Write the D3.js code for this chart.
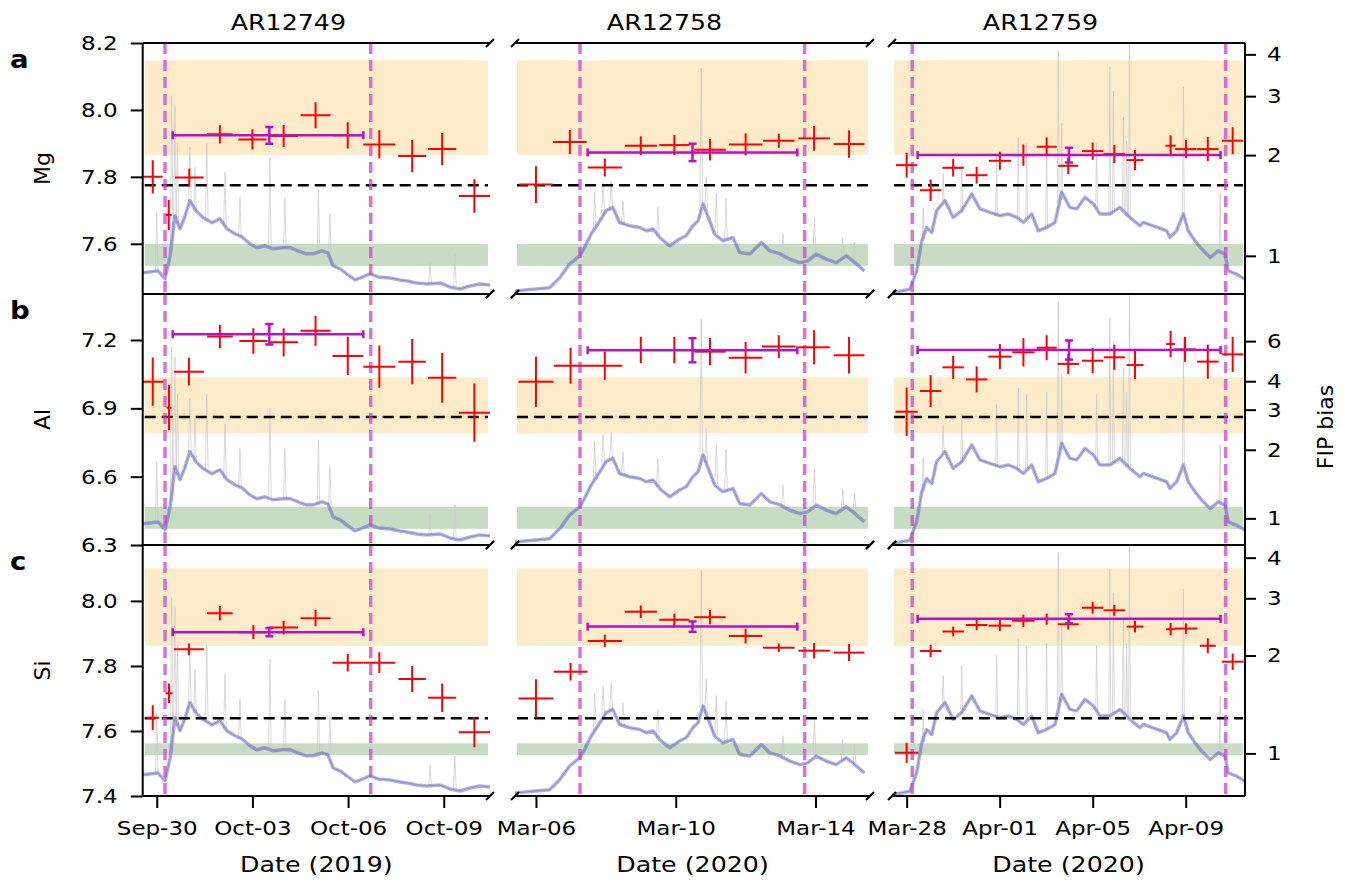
<!DOCTYPE html>
<html>
<head>
<meta charset="utf-8">
<script src="https://cdn.jsdelivr.net/npm/d3@7"></script>
<style>
  body { margin: 0; background: #fff; }
  svg { font-family: "DejaVu Sans", sans-serif; }
</style>
</head>
<body>
<div class="chart"></div>
<script>
const columns = ['AR12749', 'AR12758', 'AR12759']
const years = ['2019', '2020', '2020']
const refDates = [Date.UTC(2019, 8, 30), Date.UTC(2020, 2, 6), Date.UTC(2020, 2, 28)]
const xDomains = [[-0.44, 10.45], [-0.6, 9.56], [-0.63, 14.55]]
const xTickDays = [[0, 3, 6, 9], [0, 4, 8], [0, 4, 8, 12]]

const elements = ['Mg', 'Al', 'Si']
const panelLetters = ['a', 'b', 'c']
const yDomains = [[7.45, 8.2], [6.3, 7.402], [7.4, 8.172]]
const yTicks = [[7.6, 7.8, 8.0, 8.2], [6.3, 6.6, 6.9, 7.2], [7.4, 7.6, 7.8, 8.0]]
const photospheric = [7.564, 6.417, 7.531]
const fipTicks = [[1, 2, 3, 4], [1, 2, 3, 4, 6], [1, 2, 3, 4]]
const orangeBands = [[7.865, 8.148], [6.79, 7.036], [7.862, 8.10]]
const greenBands = [[7.534, 7.6], [6.371, 6.468], [7.526, 7.562]]
const coronalLevels = [7.775, 6.862, 7.639]
const windows = [[0.26, 6.71], [1.26, 7.69], [0.24, 13.72]]

// [day, dayErr, abundance, abundanceErr]
const mgPoints = [
  [[-0.125, 0.31, 7.80, 0.05], [0.376, 0.09, 7.686, 0.045], [1.02, 0.45, 7.798, 0.027], [1.98, 0.40, 7.927, 0.027],
   [3.0, 0.44, 7.912, 0.03], [3.98, 0.45, 7.922, 0.033], [4.98, 0.47, 7.984, 0.039], [5.99, 0.47, 7.924, 0.039],
   [6.98, 0.5, 7.897, 0.042], [8.01, 0.44, 7.862, 0.048], [8.95, 0.44, 7.883, 0.048], [9.96, 0.49, 7.743, 0.05]],
  [[0, 0.48, 7.777, 0.055], [0.97, 0.48, 7.904, 0.036], [1.97, 0.49, 7.828, 0.027], [3.0, 0.46, 7.893, 0.028],
   [3.96, 0.43, 7.895, 0.03], [4.98, 0.45, 7.881, 0.032], [6.0, 0.48, 7.897, 0.033], [6.95, 0.45, 7.908, 0.021],
   [7.96, 0.45, 7.915, 0.037], [8.96, 0.44, 7.898, 0.041]],
  [[0, 0.46, 7.835, 0.037], [1.03, 0.46, 7.76, 0.032], [2.0, 0.46, 7.827, 0.026], [3.01, 0.46, 7.805, 0.025],
   [4.01, 0.48, 7.848, 0.027], [5.02, 0.48, 7.865, 0.032], [6.02, 0.43, 7.89, 0.028], [6.95, 0.43, 7.833, 0.025],
   [8.0, 0.46, 7.877, 0.026], [8.93, 0.46, 7.868, 0.027], [9.82, 0.36, 7.85, 0.03], [11.35, 0.22, 7.893, 0.031],
   [12.01, 0.46, 7.883, 0.027], [12.95, 0.46, 7.883, 0.036], [14.02, 0.46, 7.908, 0.04]]
]
const alPoints = [
  [[-0.125, 0.34, 7.017, 0.106], [0.386, 0.08, 6.903, 0.099], [1.01, 0.47, 7.061, 0.061], [1.98, 0.40, 7.215, 0.051],
   [3.03, 0.44, 7.196, 0.056], [3.98, 0.45, 7.19, 0.062], [4.98, 0.47, 7.241, 0.066], [5.99, 0.48, 7.13, 0.084],
   [6.98, 0.5, 7.083, 0.093], [8.01, 0.43, 7.105, 0.099], [8.95, 0.44, 7.034, 0.11], [9.96, 0.49, 6.881, 0.128]],
  [[0, 0.5, 7.017, 0.11], [0.99, 0.48, 7.087, 0.079], [1.97, 0.5, 7.087, 0.062], [3.0, 0.46, 7.156, 0.058],
   [3.96, 0.43, 7.156, 0.058], [4.98, 0.45, 7.149, 0.06], [6.0, 0.48, 7.122, 0.069], [6.95, 0.48, 7.171, 0.05],
   [7.96, 0.45, 7.168, 0.075], [8.96, 0.44, 7.133, 0.08]],
  [[0, 0.48, 6.885, 0.106], [1.03, 0.46, 6.976, 0.07], [2.0, 0.46, 7.08, 0.051], [3.01, 0.46, 7.027, 0.057],
   [4.01, 0.5, 7.127, 0.055], [5.02, 0.48, 7.146, 0.062], [6.02, 0.43, 7.166, 0.055], [6.95, 0.46, 7.095, 0.044],
   [8.0, 0.46, 7.109, 0.055], [8.93, 0.45, 7.124, 0.055], [9.82, 0.36, 7.09, 0.062], [11.35, 0.19, 7.182, 0.058],
   [11.97, 0.46, 7.159, 0.055], [12.95, 0.46, 7.105, 0.075], [14.02, 0.46, 7.137, 0.077]]
]
const siPoints = [
  [[-0.125, 0.2, 7.641, 0.038], [0.386, 0.11, 7.716, 0.03], [1.01, 0.47, 7.851, 0.018], [1.98, 0.4, 7.962, 0.022],
   [3.03, 0.44, 7.904, 0.021], [3.98, 0.45, 7.918, 0.021], [4.98, 0.47, 7.947, 0.025], [5.99, 0.48, 7.81, 0.027],
   [6.98, 0.5, 7.81, 0.032], [8.01, 0.43, 7.76, 0.04], [8.95, 0.44, 7.702, 0.044], [9.96, 0.49, 7.596, 0.046]],
  [[0, 0.5, 7.70, 0.059], [0.99, 0.48, 7.782, 0.027], [1.97, 0.49, 7.877, 0.019], [3.0, 0.46, 7.967, 0.019],
   [3.96, 0.43, 7.942, 0.019], [4.98, 0.45, 7.95, 0.022], [6.0, 0.48, 7.892, 0.023], [6.95, 0.45, 7.856, 0.013],
   [7.96, 0.45, 7.847, 0.024], [8.96, 0.44, 7.841, 0.026]],
  [[0, 0.5, 7.533, 0.031], [1.03, 0.46, 7.846, 0.019], [2.0, 0.46, 7.906, 0.015], [3.01, 0.46, 7.926, 0.016],
   [4.01, 0.48, 7.924, 0.017], [5.02, 0.48, 7.939, 0.019], [6.02, 0.46, 7.944, 0.017], [6.95, 0.45, 7.928, 0.016],
   [8.0, 0.46, 7.979, 0.018], [8.93, 0.46, 7.971, 0.017], [9.82, 0.36, 7.921, 0.018], [11.35, 0.19, 7.913, 0.019],
   [12.01, 0.48, 7.915, 0.016], [12.95, 0.34, 7.862, 0.023], [14.02, 0.46, 7.813, 0.025]]
]

// [startDay, endDay, errDay, mean, err]
const mgMeans = [[0.5, 6.48, 3.53, 7.924, 0.025], [1.48, 7.48, 4.48, 7.873, 0.026], [0.47, 13.5, 6.98, 7.865, 0.022]]
const alMeans = [[0.5, 6.48, 3.53, 7.225, 0.045], [1.48, 7.48, 4.48, 7.155, 0.053], [0.47, 13.5, 6.98, 7.156, 0.042]]
const siMeans = [[0.5, 6.48, 3.53, 7.904, 0.013], [1.48, 7.48, 4.48, 7.921, 0.016], [0.47, 13.5, 6.98, 7.945, 0.014]]

// light curves, [day, fraction of panel height]
const lightCurves = [
  [[-0.44, 0.085], [0.04, 0.092], [0.26, 0.06], [0.42, 0.152], [0.57, 0.312], [0.73, 0.26], [0.86, 0.30], [1.04, 0.372],
   [1.23, 0.332], [1.45, 0.305], [1.73, 0.284], [1.98, 0.30], [2.2, 0.26], [2.45, 0.24], [2.67, 0.228], [2.92, 0.2],
   [3.14, 0.184], [3.39, 0.192], [3.65, 0.18], [3.93, 0.184], [4.18, 0.185], [4.43, 0.172], [4.68, 0.16], [4.9, 0.16],
   [5.18, 0.172], [5.37, 0.164], [5.53, 0.112], [5.75, 0.1], [6.0, 0.076], [6.22, 0.056], [6.47, 0.068], [6.69, 0.08],
   [6.94, 0.068], [7.31, 0.064], [7.63, 0.056], [7.85, 0.052], [8.16, 0.044], [8.47, 0.04], [8.88, 0.044], [9.19, 0.028],
   [9.51, 0.02], [9.82, 0.032], [10.13, 0.04], [10.45, 0.036]],
  [[-0.6, 0.012], [-0.09, 0.019], [0.39, 0.025], [0.68, 0.065], [0.96, 0.119], [1.25, 0.152], [1.39, 0.185], [1.58, 0.239],
   [1.77, 0.279], [2.01, 0.332], [2.2, 0.345], [2.39, 0.285], [2.68, 0.272], [2.97, 0.265], [3.16, 0.252], [3.35, 0.259],
   [3.54, 0.225], [3.83, 0.192], [4.11, 0.219], [4.3, 0.232], [4.49, 0.272], [4.64, 0.292], [4.78, 0.359], [4.97, 0.292],
   [5.11, 0.239], [5.35, 0.212], [5.64, 0.225], [5.83, 0.165], [6.12, 0.159], [6.45, 0.205], [6.69, 0.172], [6.97, 0.161],
   [7.26, 0.139], [7.55, 0.125], [7.78, 0.132], [8.02, 0.159], [8.31, 0.139], [8.59, 0.125], [8.88, 0.152], [9.07, 0.132],
   [9.4, 0.092]],
  [[-0.63, 0.005], [0.14, 0.019], [0.43, 0.092], [0.65, 0.212], [0.86, 0.265], [1.08, 0.245], [1.29, 0.332], [1.65, 0.372],
   [2.0, 0.305], [2.37, 0.332], [2.8, 0.399], [3.15, 0.339], [3.58, 0.325], [4.01, 0.312], [4.37, 0.319], [4.73, 0.305],
   [5.02, 0.285], [5.38, 0.319], [5.66, 0.252], [6.02, 0.265], [6.38, 0.285], [6.67, 0.405], [7.02, 0.345], [7.31, 0.339],
   [7.67, 0.385], [8.03, 0.359], [8.31, 0.319], [8.74, 0.319], [9.17, 0.345], [9.6, 0.305], [10.03, 0.272], [10.18, 0.285],
   [11.18, 0.252], [11.32, 0.225], [11.61, 0.252], [11.9, 0.319], [12.11, 0.252], [12.4, 0.212], [12.69, 0.179],
   [13.05, 0.145], [13.4, 0.172], [13.69, 0.159], [13.83, 0.092], [14.19, 0.079], [14.55, 0.059]]
]

// [day, base, peak]
const flares = [
  [[0.0, 0.09, 0.33], [0.47, 0.17, 0.79], [0.57, 0.3, 0.75], [0.65, 0.28, 0.6], [1.04, 0.37, 0.585], [1.2, 0.33, 0.505],
   [1.57, 0.3, 0.6], [2.14, 0.27, 0.485], [2.61, 0.23, 0.385], [3.55, 0.19, 0.545], [4.02, 0.185, 0.385],
   [5.07, 0.16, 0.42], [5.43, 0.16, 0.32], [8.57, 0.04, 0.125], [9.35, 0.03, 0.16]],
  [[1.68, 0.26, 0.41], [1.92, 0.32, 0.44], [2.15, 0.34, 0.45], [2.49, 0.28, 0.37], [3.49, 0.23, 0.345], [4.73, 0.35, 0.9],
   [4.87, 0.33, 0.465], [5.16, 0.24, 0.4], [5.44, 0.21, 0.38], [7.07, 0.15, 0.24], [7.97, 0.16, 0.305],
   [8.78, 0.14, 0.225], [9.12, 0.13, 0.205]],
  [[0.71, 0.21, 0.345], [1.57, 0.37, 0.48], [2.37, 0.33, 0.52], [3.87, 0.31, 0.56], [4.8, 0.3, 0.625], [5.16, 0.3, 0.6],
   [6.02, 0.265, 0.61], [6.52, 0.36, 0.97], [6.67, 0.4, 0.68], [8.17, 0.34, 0.6], [8.74, 0.32, 0.905], [8.89, 0.33, 0.81],
   [9.32, 0.33, 0.705], [9.46, 0.31, 0.61], [9.58, 0.31, 1.0], [11.9, 0.32, 0.825], [13.48, 0.17, 0.4]]
]

const points = [mgPoints, alPoints, siPoints]
const means = [mgMeans, alMeans, siMeans]

const colX = [[142.7, 490], [515, 870], [892, 1245]]
const rowY = [[43, 294], [294, 545], [545, 796]]
const stretch = 1.15
const DAY = 864e5

const svg = d3.select('.chart')
  .append('svg')
  .attr('width', 1345)
  .attr('height', 882)

const toDate = (c, d) => new Date(refDates[c] + d * DAY)

const styleAxis = (g, dx) => {
  g.select('.domain').remove()
  g.attr('font-size', 20).attr('font-family', 'DejaVu Sans')
  g.selectAll('line').attr('stroke', '#000').attr('stroke-width', 2)
  g.selectAll('text').attr('fill', '#000').attr('transform', `scale(${stretch},1)`)
  if (dx !== undefined) g.selectAll('text').attr('x', dx / stretch)
}

const breakMark = (px, py) => svg.append('line')
  .attr('x1', px - 4).attr('y1', py + 4)
  .attr('x2', px + 4).attr('y2', py - 4)
  .attr('stroke', '#000').attr('stroke-width', 2)

elements.forEach((el, r) => {
  const [top, bottom] = rowY[r]
  columns.forEach((ar, c) => {
    const [x0, x1] = colX[c]
    const x = d3.scaleUtc().domain(xDomains[c].map(d => toDate(c, d))).range([x0, x1])
    const xd = d => x(toDate(c, d))
    const y = d3.scaleLinear().domain(yDomains[r]).range([bottom, top])
    const yc = d3.scaleLinear().domain([0, 1]).range([bottom, top])

    const id = `clip-${r}-${c}`
    svg.append('clipPath').attr('id', id)
      .append('rect')
      .attr('x', x0).attr('y', top)
      .attr('width', x1 - x0).attr('height', bottom - top)

    const g = svg.append('g').attr('clip-path', `url(#${id})`)

    g.append('rect')
      .attr('x', x0 + 2).attr('width', x1 - x0 - 4)
      .attr('y', y(orangeBands[r][1]))
      .attr('height', y(orangeBands[r][0]) - y(orangeBands[r][1]))
      .attr('fill', '#fdebc9')
    g.append('rect')
      .attr('x', x0 + 2).attr('width', x1 - x0 - 4)
      .attr('y', y(greenBands[r][1]))
      .attr('height', y(greenBands[r][0]) - y(greenBands[r][1]))
      .attr('fill', '#c8dcc4')

    const line = d3.line().x(d => xd(d[0])).y(d => yc(d[1]))
    g.append('path')
      .attr('d', line(lightCurves[c]))
      .attr('fill', 'none').attr('stroke', '#c4c4c4').attr('stroke-width', 1)
    g.selectAll('.flare')
      .data(flares[c])
      .enter()
      .append('path')
      .attr('class', 'flare')
      .attr('d', d => `M${xd(d[0] - 0.04)},${yc(d[1])}L${xd(d[0])},${yc(d[2])}L${xd(d[0] + 0.04)},${yc(d[1])}`)
      .attr('fill', 'none').attr('stroke', '#c8c8c8').attr('stroke-width', 0.7)
    g.append('path')
      .attr('d', line(lightCurves[c]))
      .attr('fill', 'none').attr('stroke', '#3c3cc8').attr('stroke-opacity', 0.4)
      .attr('stroke-width', 3.5).attr('stroke-linejoin', 'round')

    g.append('line')
      .attr('x1', x0 + 2).attr('x2', x1 - 2)
      .attr('y1', y(coronalLevels[r])).attr('y2', y(coronalLevels[r]))
      .attr('stroke', '#000').attr('stroke-width', 2.5).attr('stroke-dasharray', '11,6')

    g.selectAll('.window')
      .data(windows[c])
      .enter()
      .append('line')
      .attr('class', 'window')
      .attr('x1', d => xd(d)).attr('x2', d => xd(d))
      .attr('y1', top).attr('y2', bottom)
      .attr('stroke', '#cc44cc').attr('stroke-opacity', 0.75)
      .attr('stroke-width', 3.5).attr('stroke-dasharray', '11,6')

    const pts = g.selectAll('.pt')
      .data(points[r][c])
      .enter()
      .append('g')
      .attr('class', 'pt')
    pts.append('line')
      .attr('x1', d => xd(d[0] - d[1])).attr('x2', d => xd(d[0] + d[1]))
      .attr('y1', d => y(d[2])).attr('y2', d => y(d[2]))
      .attr('stroke', 'red').attr('stroke-width', 2)
    pts.append('line')
      .attr('x1', d => xd(d[0])).attr('x2', d => xd(d[0]))
      .attr('y1', d => y(d[2] - d[3])).attr('y2', d => y(d[2] + d[3]))
      .attr('stroke', 'red').attr('stroke-width', 2)

    const m = means[r][c]
    const mg = g.append('g').attr('stroke', '#bb11c4').attr('stroke-width', 2.5)
    const my = y(m[3])
    mg.append('line').attr('x1', xd(m[0])).attr('x2', xd(m[1])).attr('y1', my).attr('y2', my)
    mg.append('line').attr('x1', xd(m[0])).attr('x2', xd(m[0])).attr('y1', my - 4).attr('y2', my + 4)
    mg.append('line').attr('x1', xd(m[1])).attr('x2', xd(m[1])).attr('y1', my - 4).attr('y2', my + 4)
    mg.append('line').attr('x1', xd(m[2])).attr('x2', xd(m[2])).attr('y1', y(m[3] - m[4])).attr('y2', y(m[3] + m[4]))
    mg.append('line').attr('x1', xd(m[2]) - 4).attr('x2', xd(m[2]) + 4).attr('y1', y(m[3] - m[4])).attr('y2', y(m[3] - m[4]))
    mg.append('line').attr('x1', xd(m[2]) - 4).attr('x2', xd(m[2]) + 4).attr('y1', y(m[3] + m[4])).attr('y2', y(m[3] + m[4]))

    // spines
    const spine = (a, b, cc, d) => svg.append('line')
      .attr('x1', a).attr('y1', b).attr('x2', cc).attr('y2', d)
      .attr('stroke', '#000').attr('stroke-width', 2)
    spine(x0, top, x1, top)
    spine(x0, bottom, x1, bottom)
    if (c === 0) spine(x0, top, x0, bottom)
    if (c === 2) spine(x1, top, x1, bottom)
    if (c < 2) { breakMark(x1, top); breakMark(x1, bottom) }
    if (c > 0) { breakMark(x0, top); breakMark(x0, bottom) }

    if (c === 0) {
      svg.append('g')
        .attr('transform', `translate(${x0},0)`)
        .call(d3.axisLeft(y).tickValues(yTicks[r]).tickSize(12).tickFormat(d3.format('.1f')))
        .call(a => styleAxis(a, -25))
    }
    if (c === 2) {
      const fip = d3.scaleLog()
        .domain(yDomains[r].map(v => Math.pow(10, v - photospheric[r])))
        .range([bottom, top])
      svg.append('g')
        .attr('transform', `translate(${x1},0)`)
        .call(d3.axisRight(fip).tickValues(fipTicks[r]).tickSize(11).tickFormat(d3.format('d')))
        .call(a => styleAxis(a, 22))
    }
    if (r === 2) {
      svg.append('g')
        .attr('transform', `translate(0,${bottom})`)
        .call(d3.axisBottom(x).tickValues(xTickDays[c].map(d => toDate(c, d)))
          .tickSize(12).tickPadding(13).tickFormat(d3.utcFormat('%b-%d')))
        .call(a => styleAxis(a))
    }
  })

  svg.append('text')
    .attr('transform', `translate(50,${(top + bottom) / 2}) rotate(-90)`)
    .attr('text-anchor', 'middle')
    .attr('font-size', 22)
    .text(el)

  svg.append('text')
    .attr('transform', `translate(10,${top + 25}) scale(${stretch},1)`)
    .attr('font-size', 24)
    .attr('font-weight', 'bold')
    .text(panelLetters[r])
})

columns.forEach((ar, c) => {
  const cx = (colX[c][0] + colX[c][1]) / 2
  svg.append('text')
    .attr('transform', `translate(${cx - 28},30) scale(${stretch},1)`)
    .attr('text-anchor', 'middle')
    .attr('font-size', 22)
    .text(ar)
  svg.append('text')
    .attr('transform', `translate(${cx},872) scale(${stretch},1)`)
    .attr('text-anchor', 'middle')
    .attr('font-size', 22)
    .text(`Date (${years[c]})`)
})

svg.append('text')
  .attr('transform', 'translate(1333,427) rotate(-90)')
  .attr('text-anchor', 'middle')
  .attr('font-size', 22)
  .text('FIP bias')
</script>
</body>
</html>
